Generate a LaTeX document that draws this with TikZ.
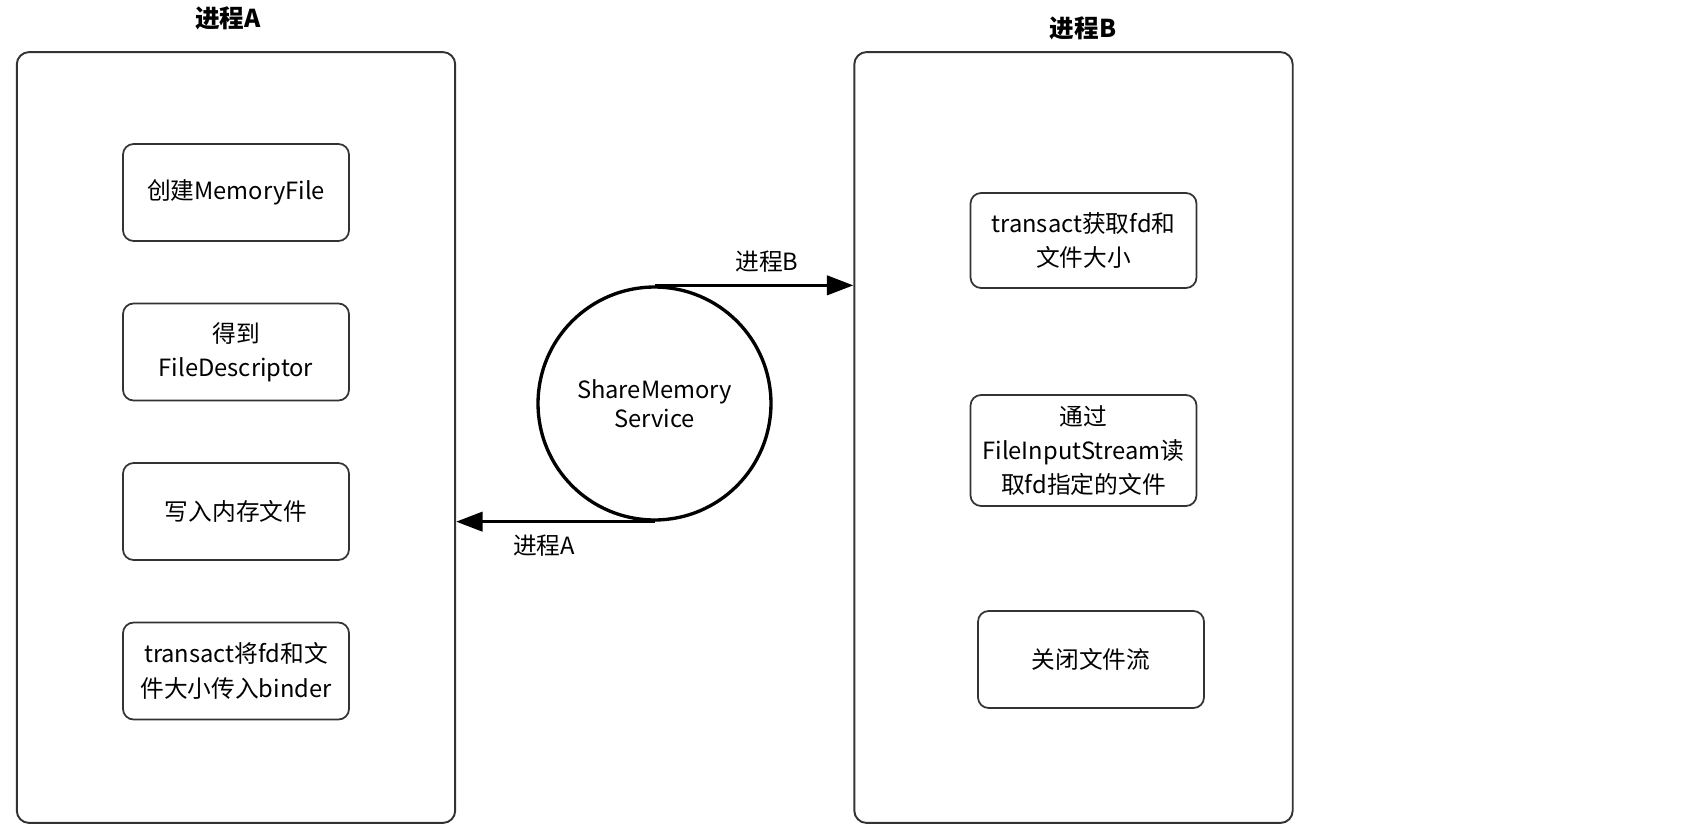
\documentclass[tikz,border=0pt]{standalone}
\usepackage{fontspec}
\setmainfont{Noto Sans CJK SC}
\usetikzlibrary{arrows.meta}

\tikzset{
  procbox/.style={draw=black!80, line width=1.1pt, rounded corners=7pt,
    minimum width=8.77cm, minimum height=15.42cm, inner sep=0pt},
  proctitle/.style={font=\fontsize{14}{17}\selectfont\bfseries},
  stepbox/.style={draw=black!80, line width=1pt, rounded corners=6pt,
    minimum width=4.52cm, minimum height=1.94cm, inner sep=0pt, align=center,
    font=\fontsize{13.5}{19.5}\selectfont},
  svcnode/.style={draw, circle, line width=1.9pt, minimum size=4.66cm,
    inner sep=0pt, align=center, font=\fontsize{13.5}{16.5}\selectfont},
  flow/.style={line width=1.7pt, -{Triangle[length=15pt,width=11pt]}},
  flowlabel/.style={font=\fontsize{13.5}{16}\selectfont},
}

\begin{document}
\begin{tikzpicture}[x=0.02cm,y=-0.02cm]
\useasboundingbox (0,0) rectangle (1684,836);
% two processes
\node[procbox] (procA) at (236,437.5) {};
\node[procbox] (procB) at (1073.5,437.5) {};
\node[proctitle] (titleA) at (228,18) {进程A};
\node[proctitle] (titleB) at (1083,28) {进程B};
% steps of A
\node[stepbox] (a1) at (236,192.5) {创建MemoryFile};
\node[stepbox] (a2) at (236,352) {得到\\FileDescriptor};
\node[stepbox] (a3) at (236,511.5) {写入内存文件};
\node[stepbox] (a4) at (236,671) {transact将fd和文\\件大小传入binder};
% steps of B
\node[stepbox, minimum height=1.9cm] (b1) at (1083.5,240.5) {transact获取fd和\\文件大小};
\node[stepbox, minimum height=2.22cm] (b2) at (1083.5,450.5) {通过\\FileInputStream读\\取fd指定的文件};
\node[stepbox] (b3) at (1091,659.5) {关闭文件流};
% service
\node[svcnode] (svc) at (654.5,403.5) {ShareMemory\\Service};
\draw[flow] (svc.north) -- (svc.north -| procB.west);
\draw[flow] (svc.south) -- (svc.south -| procA.east);
\node[flowlabel] (labB) at (767,262) {进程B};
\node[flowlabel] (labA) at (544,546) {进程A};
\end{tikzpicture}
\end{document}
